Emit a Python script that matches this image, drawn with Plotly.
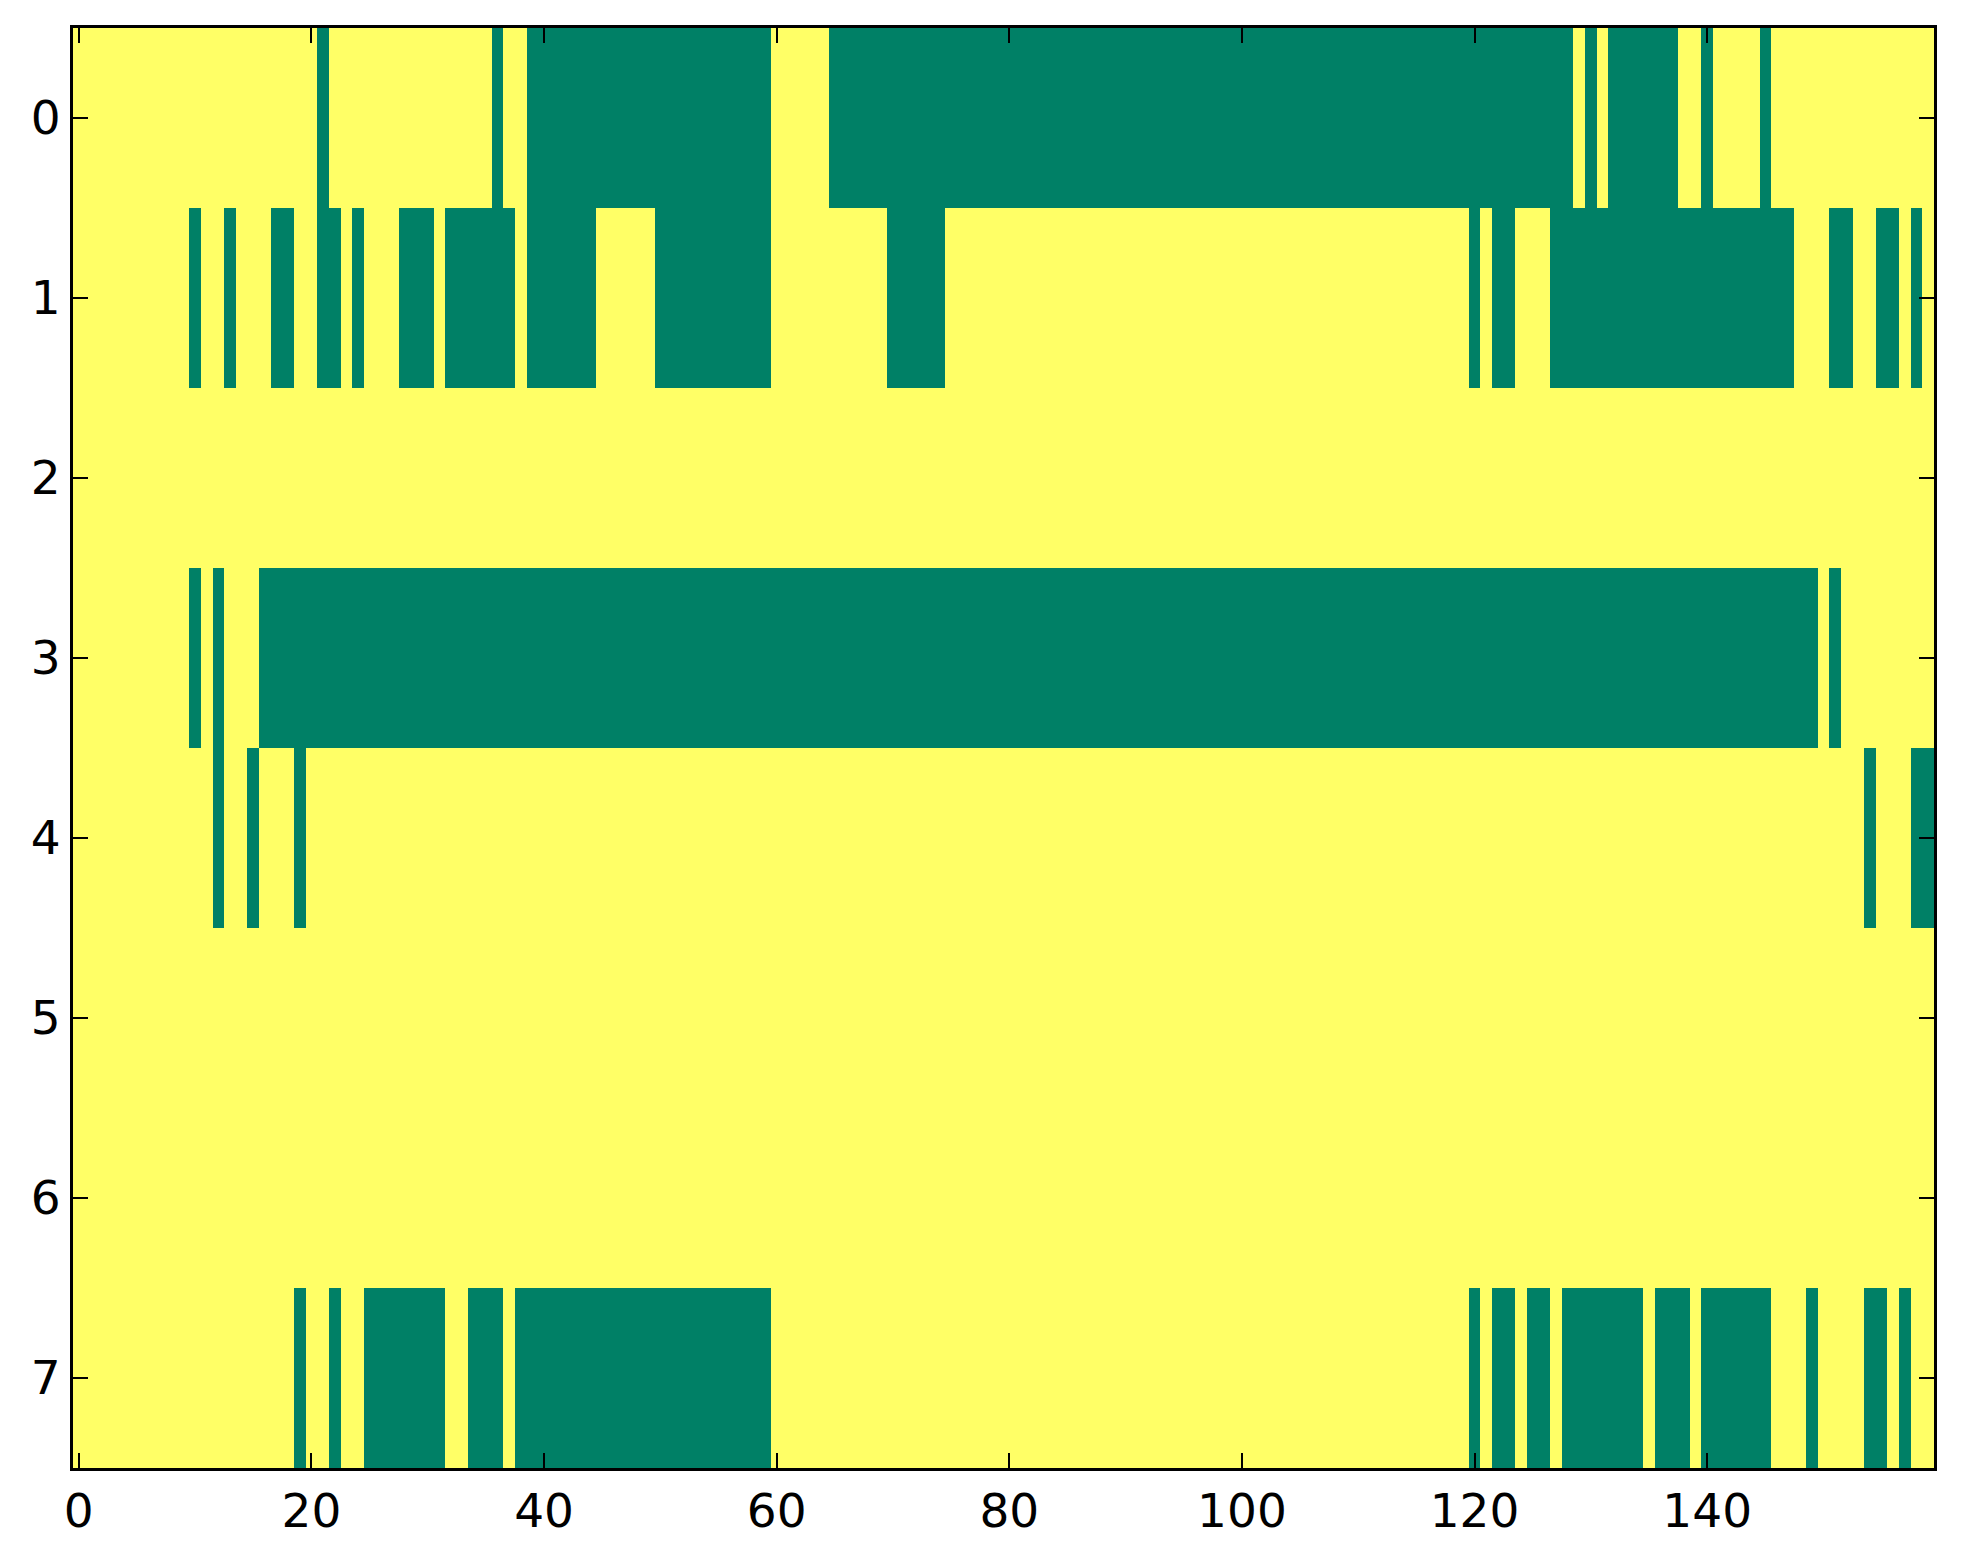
import plotly.graph_objects as go

n_cols = 160
row_labels = [0, 1, 2, 3, 4, 5, 6, 7]

# Green (active) cells per row, as inclusive (start, end) column runs
row0_runs = [(21, 21), (36, 36), (39, 59), (65, 128), (130, 130), (132, 137), (140, 140), (145, 145)]
row1_runs = [(10, 10), (13, 13), (17, 18), (21, 22), (24, 24), (28, 30), (32, 37), (39, 44), (50, 59),
             (70, 74), (120, 120), (122, 123), (127, 147), (151, 152), (155, 156), (158, 158)]
row2_runs = []
row3_runs = [(10, 10), (12, 12), (16, 149), (151, 151)]
row4_runs = [(12, 12), (15, 15), (19, 19), (154, 154), (158, 159)]
row5_runs = []
row6_runs = []
row7_runs = [(19, 19), (22, 22), (25, 31), (34, 36), (38, 59), (120, 120), (122, 123), (125, 126),
             (128, 134), (136, 138), (140, 145), (149, 149), (154, 155), (157, 157)]

all_runs = [row0_runs, row1_runs, row2_runs, row3_runs, row4_runs, row5_runs, row6_runs, row7_runs]

z = []
for runs in all_runs:
    row = [0] * n_cols
    for a, b in runs:
        for c in range(a, b + 1):
            row[c] = 1
    z.append(row)

x_ticks = [0, 20, 40, 60, 80, 100, 120, 140]

yellow = "rgb(255,255,102)"
green = "rgb(0,128,102)"

fig = go.Figure(go.Heatmap(
    z=z,
    x=list(range(n_cols)),
    y=row_labels,
    colorscale=[[0, yellow], [1, green]],
    zmin=0, zmax=1,
    showscale=False,
    hoverinfo="skip",
))

font = dict(family="DejaVu Sans", size=47, color="black")

fig.update_layout(
    width=1963, height=1564,
    margin=dict(l=65, r=37, t=20, b=104, autoexpand=False),
    paper_bgcolor="white",
    plot_bgcolor="white",
    font=font,
)
fig.update_xaxes(
    range=[-0.5, 159.5],
    tickvals=x_ticks,
    ticks="inside", ticklen=15, tickwidth=2, tickcolor="black",
    showline=True, linecolor="black", linewidth=3, mirror="allticks",
    showgrid=False, zeroline=False, automargin=False,
    tickfont=font,
)
fig.update_yaxes(
    range=[7.5, -0.5],
    tickvals=row_labels,
    ticks="inside", ticklen=15, tickwidth=2, tickcolor="black",
    showline=True, linecolor="black", linewidth=3, mirror="allticks",
    showgrid=False, zeroline=False, automargin=False,
    tickfont=font,
)

fig.write_html("out.html")
